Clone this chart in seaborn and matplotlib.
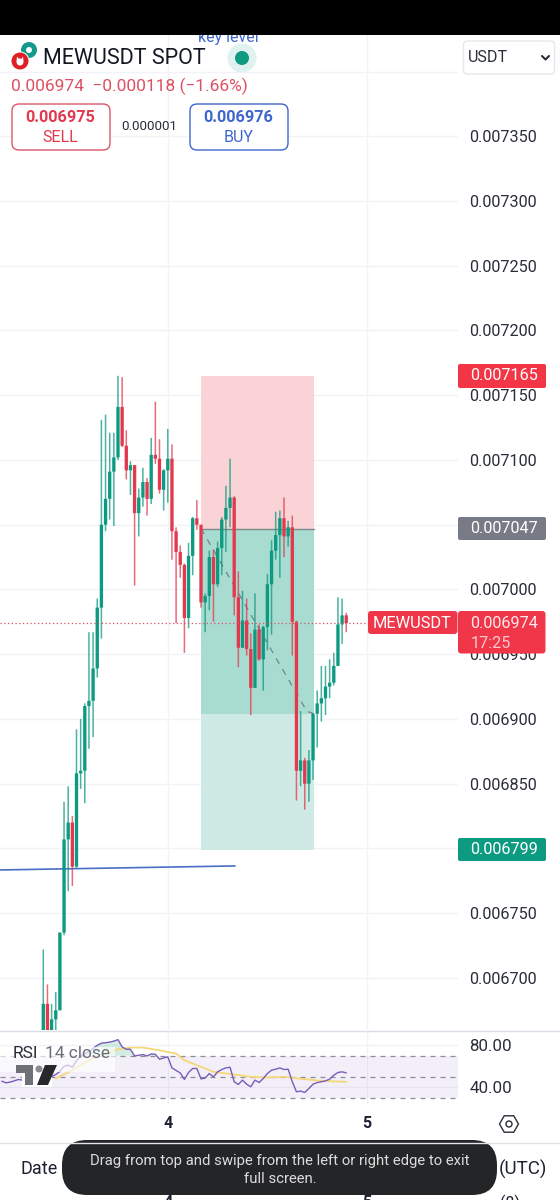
import numpy as np
import pandas as pd
import seaborn as sns
import matplotlib.pyplot as plt
from matplotlib.patches import Rectangle, FancyBboxPatch, Circle, Polygon, RegularPolygon

# prices are in millionths of USDT
opens = [6650, 6680, 6652, 6668, 6675, 6735, 6807, 6820, 6786, 6858, 6860, 6910, 6914, 6939,
         6986, 7050, 7070, 7091, 7102, 7141, 7111, 7092, 7096, 7059, 7071, 7083, 7070, 7104,
         7101, 7077, 7092, 7101, 7045, 7029, 7019, 6978, 7026, 7055, 7050, 6990, 6995, 7025,
         7004, 7032, 7054, 7063, 7071, 6994, 6955, 6976, 6954, 6924, 6969, 6946, 6971, 7004,
         7030, 7042, 7055, 7041, 7048, 6975, 6860, 6868, 6850, 6868, 6904, 6912, 6916, 6925,
         6928, 6941, 6973, 6980]
highs = [6722, 6695, 6680, 6689, 6735, 6836, 6848, 6825, 6892, 6900, 6912, 6967, 6967, 6993,
         7131, 7135, 7121, 7121, 7165, 7164, 7123, 7099, 7096, 7078, 7094, 7086, 7117, 7145,
         7116, 7093, 7124, 7112, 7048, 7034, 7020, 7036, 7056, 7069, 7050, 6997, 7030, 7031,
         7037, 7056, 7080, 7101, 7072, 7014, 6999, 6993, 6966, 6997, 6973, 6972, 7012, 7038,
         7060, 7061, 7071, 7053, 7057, 6976, 6906, 6870, 6876, 6904, 6922, 6941, 6941, 6946,
         6951, 6994, 6993, 6982]
lows = [6640, 6645, 6640, 6655, 6675, 6733, 6767, 6771, 6785, 6846, 6835, 6877, 6886, 6932,
        6962, 7045, 7054, 7049, 7100, 7110, 7085, 7073, 7003, 7041, 7064, 7057, 7066, 7097,
        7074, 7061, 7067, 7023, 6974, 7009, 6951, 6970, 7011, 7046, 6986, 6967, 6984, 6975,
        7002, 7011, 7029, 7048, 6980, 6940, 6955, 6949, 6903, 6924, 6945, 6922, 6953, 6965,
        7023, 7009, 7025, 7033, 6949, 6837, 6848, 6830, 6836, 6853, 6878, 6898, 6903, 6916,
        6926, 6941, 6958, 6967]
closes = [6680, 6652, 6668, 6675, 6735, 6807, 6820, 6786, 6858, 6860, 6910, 6914, 6939, 6986,
          7050, 7070, 7091, 7102, 7141, 7111, 7092, 7096, 7059, 7071, 7083, 7070, 7104, 7101,
          7077, 7092, 7101, 7045, 7029, 7019, 6978, 7026, 7055, 7050, 6990, 6995, 7025, 7004,
          7032, 7054, 7063, 7071, 6994, 6955, 6976, 6954, 6924, 6969, 6946, 6971, 7004, 7030,
          7042, 7055, 7041, 7048, 6975, 6860, 6868, 6850, 6868, 6904, 6912, 6916, 6925, 6928,
          6941, 6973, 6980, 6974]

# rsi starts 10 candles left of the first visible one
rsi_vals = [45.7, 44.1, 44.8, 46.0, 47.3, 46.7, 47.0, 48.0, 47.5, 49.0,
            50.0, 49.0, 50.0, 52.0, 55.0, 60.0, 61.0, 59.0, 65.0, 70.0,
            72.0, 74.0, 77.0, 80.0, 82.0, 82.5, 83.0, 84.0, 85.4, 78.4,
            76.2, 76.2, 69.8, 70.5, 71.1, 69.8, 71.7, 71.4, 66.7, 67.9,
            68.9, 58.4, 55.9, 53.6, 47.3, 54.0, 57.8, 57.8, 47.9, 48.6,
            53.0, 49.8, 54.6, 56.8, 58.4, 59.0, 45.1, 42.5, 46.7, 42.8,
            40.3, 46.7, 44.4, 48.2, 53.0, 56.2, 57.1, 58.4, 56.8, 57.1,
            45.1, 35.5, 36.2, 34.9, 38.7, 42.8, 44.4, 45.1, 46.0, 47.6,
            51.4, 54.0, 54.6, 53.6]
ma_idx = [3, 7, 11, 15, 18, 21, 24, 28, 32, 34, 38, 41, 46, 50, 54, 58, 63, 67, 73]
ma_vals = [48.2, 56.2, 65.7, 72.0, 76.2, 77.8, 77.8, 75.2, 72.0, 65.7,
           59.4, 54.6, 52.0, 49.8, 49.2, 49.8, 47.6, 46.0, 45.1]

price_ticks = [6700, 6750, 6800, 6850, 6900, 6950, 7000, 7050, 7100, 7150, 7200, 7250, 7300, 7350, 7400]
day_idx = [30, 78]
day_labels = ['4', '5']
last_price = 6974
stop_price = 7165
entry_price = 7047
target_price = 6799
now_price = 6904

GREEN = '#0c9a80'
RED = '#e2394f'
GRID = '#f1f3f8'
BLUE = '#3f66cf'

sns.set_theme(style='white')
plt.rcParams['font.family'] = ['Roboto', 'DejaVu Sans']

W, H = 560, 1200
fig = plt.figure(figsize=(5.6, 12), dpi=100, facecolor='white')


def px_axes(x0, y0, x1, y1):
    return fig.add_axes([x0 / W, 1 - y1 / H, (x1 - x0) / W, (y1 - y0) / H])


def idx_lim(x0, x1):
    return (x0 - 43.3) / 4.15, (x1 - 43.3) / 4.15


def round_box(axis, x0, y0, x1, y1, r, **kw):
    axis.add_patch(FancyBboxPatch((x0 + r, y0 + r), x1 - x0 - 2 * r, y1 - y0 - 2 * r,
                                  boxstyle=f'round,pad={r},rounding_size={r}', **kw))


df = pd.DataFrame({'o': opens, 'h': highs, 'l': lows, 'c': closes})
df['i'] = np.arange(len(df))
up = df.c >= df.o

# main chart
ax = px_axes(0, 35, 458, 1030)
ax.set_xlim(*idx_lim(0, 458))
ax.set_ylim(6659.8, 7428.2)
ax.set_yticks(price_ticks)
ax.set_yticklabels(['' if v == 7400 else f'{v / 1e6:.6f}' for v in price_ticks], fontsize=11.7, color='#2a2e39')
ax.yaxis.tick_right()
ax.tick_params(axis='y', length=0, pad=8.2)
ax.set_xticks(day_idx)
ax.set_xticklabels([])
ax.tick_params(axis='x', length=0)
ax.grid(True, color=GRID, lw=1)
ax.set_axisbelow(True)
sns.despine(ax=ax, left=True, bottom=True, right=True, top=True)

# long position box
x_a, x_b = 38, 65.2
ax.add_patch(Rectangle((x_a, entry_price), x_b - x_a, stop_price - entry_price, color='#f9d3d5', lw=0, zorder=1))
ax.add_patch(Rectangle((x_a, now_price), x_b - x_a, entry_price - now_price, color='#a9dcd1', lw=0, zorder=1))
ax.add_patch(Rectangle((x_a, target_price), x_b - x_a, now_price - target_price, color='#cfeae5', lw=0, zorder=1))
ax.plot([x_a, x_b], [entry_price, entry_price], color='#7b8a8a', lw=1, zorder=2)
ax.plot([x_a, 63.5, x_b], [entry_price, now_price + 2, now_price], color='#6f8583', lw=0.9, ls=(0, (5, 5)), zorder=2)

# key level
ax.plot([-10.43, 46.2], [6783.4, 6786.5], color='#4a6fc4', lw=1.2, zorder=2)

# candles
for mask, col in [(up, GREEN), (~up, RED)]:
    wicks = ax.vlines(df.i[mask], df.l[mask], df.h[mask], color=col, lw=1.1, alpha=0.75, zorder=3)
    wicks.set_snap(False)
    bodies = ax.bar(df.i[mask], (df.c - df.o)[mask], bottom=df.o[mask], width=0.8, color=col, lw=0, zorder=4)
    for b in bodies:
        b.set_snap(False)

ax.axhline(last_price, color='#dd4f60', lw=0.9, ls=(0, (1, 2)), zorder=5)

# rsi pane
ax2 = px_axes(0, 1032, 458, 1105)
ax2.set_xlim(*idx_lim(0, 458))
ax2.set_ylim(22.9, 92.7)
ax2.set_yticks([40, 80])
ax2.set_yticklabels(['40.00', '80.00'], fontsize=12.2, color='#2a2e39')
ax2.yaxis.tick_right()
ax2.tick_params(axis='y', length=0, pad=8.2)
ax2.set_xticks(day_idx)
ax2.set_xticklabels([])
ax2.tick_params(axis='x', length=0)
ax2.grid(True, color=GRID, lw=1)
ax2.set_axisbelow(True)
sns.despine(ax=ax2, left=True, bottom=True, right=True, top=True)
ax2.axhspan(30, 70, color='#7e57c2', alpha=0.09, lw=0)
for lvl in [30, 50, 70]:
    ax2.axhline(lvl, color='#8a8d96', lw=0.9, ls=(0, (4, 4)))

rsi_idx = np.arange(-10, 74)
rsi = np.array(rsi_vals)
ax2.fill_between(rsi_idx, 70, rsi, where=rsi > 70, color='#9ed8c2', alpha=0.45, lw=0, interpolate=True)
sns.lineplot(x=ma_idx, y=ma_vals, ax=ax2, color='#f3d778', lw=1.3, estimator=None, legend=False)
sns.lineplot(x=rsi_idx, y=rsi_vals, ax=ax2, color='#7a5cb8', lw=1.0, estimator=None, legend=False)
ax2.set_xlabel('')
ax2.set_ylabel('')

# page furniture in pixel coords
ui = fig.add_axes([0, 0, 1, 1], zorder=5)
ui.set_xlim(0, W)
ui.set_ylim(H, 0)
ui.axis('off')
ui.patch.set_alpha(0)

ui.text(228, 42, 'key level', color=BLUE, fontsize=11.4, ha='center', va='baseline')
ui.add_patch(Rectangle((0, 0), W, 35, color='black', lw=0, zorder=10))

# header icons
ui.add_patch(Circle((29, 50), 8, color='#12998a', lw=0))
ui.add_patch(Circle((29, 50), 3, color='white', lw=0))
ui.add_patch(Circle((20, 61), 9.5, color='white', lw=0))
ui.add_patch(Circle((20, 61), 8.5, color='#e01e26', lw=0))
ui.add_patch(Circle((20, 62), 3.5, color='white', lw=0))
ui.add_patch(Polygon([(16.5, 61), (17, 56.5), (19.5, 59.5), (21, 59.5), (23, 56.5), (23.5, 61)], color='white', lw=0))

ui.text(43, 58, 'MEWUSDT SPOT', color='#131722', fontsize=15.5, va='center')
ui.add_patch(Circle((242, 58), 14.5, color='#e0f2ef', lw=0))
ui.add_patch(Circle((242, 58), 7, color=GREEN, lw=0))
ui.text(11, 86, '0.006974  −0.000118 (−1.66%)', color='#dc5262', fontsize=12.55, va='center')

for x0, col, a, b in [(12, '#d9566a', '0.006975', 'SELL'), (190, BLUE, '0.006976', 'BUY')]:
    round_box(ui, x0, 104, x0 + 98, 150, 7, fc='white', ec=col, lw=1)
    txt = RED if b == 'SELL' else BLUE
    ui.text(x0 + 48.5, 118, a, color=txt, fontsize=11.7, fontweight='bold', ha='center', va='center')
    ui.text(x0 + 48.5, 137, b, color=txt, fontsize=11.5, ha='center', va='center')
ui.text(149, 126, '0.000001', color='#2a2e39', fontsize=9.6, ha='center', va='center')

# currency dropdown
round_box(ui, 463.5, 41, 554.5, 74, 4, fc='white', ec='#e6e7ec', lw=1)
ui.text(468, 58, 'USDT', color='#2a2e39', fontsize=11.6, va='center')
ui.plot([542, 545.5, 549], [56, 59.5, 56], color='#2a2e39', lw=1.5)

# price badges
for y0, y1, col, lab in [(364, 388, '#f23645', '0.007165'), (517, 540, '#787b86', '0.007047'),
                         (838, 861, '#0c9a80', '0.006799')]:
    round_box(ui, 458, y0, 546, y1, 2, color=col, lw=0)
    ui.text(470, (y0 + y1) / 2, lab, color='white', fontsize=11.7, va='center')
round_box(ui, 368, 611, 457.5, 634, 3, color='#f0374a', lw=0)
ui.text(412.5, 623, 'MEWUSDT', color='white', fontsize=11.8, ha='center', va='center')
round_box(ui, 458, 611, 545.5, 653.5, 3, color='#f0374a', lw=0)
ui.text(470.5, 623, '0.006974', color='#ffe9eb', fontsize=11.7, va='center')
ui.text(470.5, 643, '17:25', color='#fbc9ce', fontsize=11.7, va='center')

# rsi legend and logo
ui.add_patch(Rectangle((0, 1047), 115, 25, color='white', alpha=0.65, lw=0))
ui.text(12.5, 1054, 'RSI', color='#2a2e39', fontsize=12.5, va='center')
ui.text(45, 1054, '14 close', color='#6a6d78', fontsize=12.5, va='center')
ui.add_patch(Rectangle((22, 1072), 30, 15, color='white', lw=0))
ui.add_patch(Polygon([(16, 1065), (33, 1065), (33, 1085), (25, 1085), (25, 1073), (16, 1073)], color='#6e7075', lw=0))
ui.add_patch(Circle((39, 1069), 3.5, color='#8a8c91', lw=0))
ui.add_patch(Polygon([(45, 1065), (57, 1065), (48, 1085), (37, 1085)], color='#26282c', lw=0))

# pane separators and time axis
ui.plot([0, W], [1031, 1031], color='#dcdce9', lw=1)
ui.plot([0, W], [1142.5, 1142.5], color='#e3e4ea', lw=1)
for x, lab in zip([168, 367], day_labels):
    ui.text(x, 1124, lab, color='#1c2030', fontsize=11.5, fontweight='bold', ha='center', va='center')
    ui.text(x, 1195, lab, color='#1c2030', fontsize=11.5, fontweight='bold', ha='center', va='top')
ui.add_patch(RegularPolygon((509, 1124), 6, radius=9.5, orientation=np.pi / 6, fc='none', ec='#2a2e39', lw=1))
ui.add_patch(Circle((509, 1124), 3, fc='none', ec='#2a2e39', lw=1))

ui.text(39, 1169, 'Date', color='#1c2030', fontsize=13, ha='center', va='center')
ui.text(523, 1169, '(UTC)', color='#1c2030', fontsize=13.5, ha='center', va='center')
ui.text(510, 1195, '(8)', color='#1c2030', fontsize=11.5, ha='center', va='top')

# system toast
round_box(ui, 62, 1140, 497, 1195, 25, fc='#232527', ec='none')
ui.text(280, 1161, 'Drag from top and swipe from the left or right edge to exit', color='#dcdcdc',
        fontsize=10.7, ha='center', va='center')
ui.text(280, 1179, 'full screen.', color='#dcdcdc', fontsize=10.7, ha='center', va='center')

fig.savefig('out.png', dpi=100)
